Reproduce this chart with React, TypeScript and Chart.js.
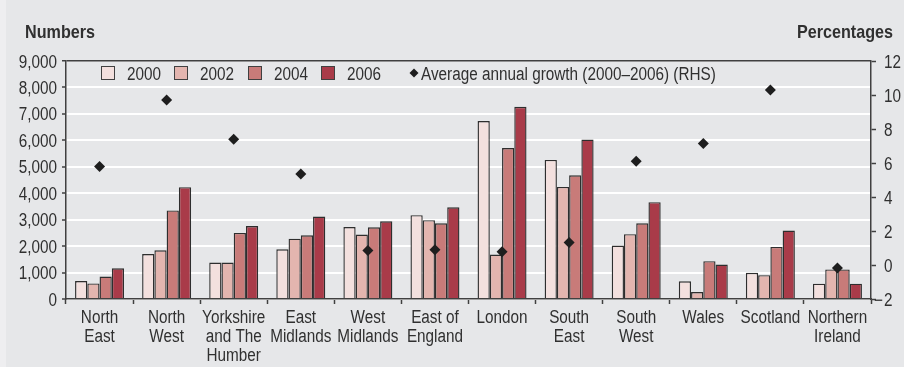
import React, { useEffect, useRef } from "react";
import { Chart, registerables } from "chart.js";

Chart.register(...registerables);

const categories: string[][] = [
  ["North", "East"],
  ["North", "West"],
  ["Yorkshire", "and The", "Humber"],
  ["East", "Midlands"],
  ["West", "Midlands"],
  ["East of", "England"],
  ["London"],
  ["South", "East"],
  ["South", "West"],
  ["Wales"],
  ["Scotland"],
  ["Northern", "Ireland"],
];

const years = ["2000", "2002", "2004", "2006"];
const v2000 = [680, 1700, 1380, 1880, 2720, 3170, 6730, 5260, 2020, 670, 990, 580];
const v2002 = [590, 1840, 1380, 2280, 2440, 2980, 1680, 4240, 2450, 260, 900, 1120];
const v2004 = [850, 3350, 2500, 2410, 2710, 2860, 5710, 4680, 2860, 1430, 1970, 1120];
const v2006 = [1160, 4230, 2760, 3120, 2940, 3470, 7270, 6030, 3660, 1300, 2590, 580];
const growth = [5.8, 9.7, 7.4, 5.35, 0.85, 0.9, 0.78, 1.33, 6.1, 7.15, 10.3, -0.18];
const growthLabel = "Average annual growth (2000\u20132006) (RHS)";
const leftTitle = "Numbers";
const rightTitle = "Percentages";

const leftMin = 0;
const leftMax = 9000;
const leftStep = 1000;
const rightMin = -2;
const rightMax = 12;
const rightStep = 2;

const FONT = "'Liberation Sans', Arial, sans-serif";
const SX = 0.85; // horizontal condensation of all text
const TEXT = "#303030";
const LINE = "#404040";
const colors = ["#f3e0de", "#e3b5af", "#c87b79", "#a93b49"];
const BG = "#e6e7e9";

function txt(
  ctx: CanvasRenderingContext2D,
  s: string,
  x: number,
  y: number,
  align: CanvasTextAlign,
  font: string
) {
  ctx.save();
  ctx.font = font;
  ctx.textAlign = align;
  ctx.textBaseline = "alphabetic";
  ctx.translate(x, y);
  ctx.scale(SX, 1);
  ctx.fillText(s, 0, 0);
  ctx.restore();
}

const overlay = {
  id: "overlay",
  afterDraw(chart: any) {
    const ctx = chart.ctx as CanvasRenderingContext2D;
    const reg = `18px ${FONT}`;
    const bold = `bold 19px ${FONT}`;
    ctx.save();
    ctx.fillStyle = TEXT;

    // axis titles
    txt(ctx, leftTitle, 25, 38, "left", bold);
    txt(ctx, rightTitle, 893, 38, "right", bold);

    // left ticks
    const ys = chart.scales.y;
    ys.ticks.forEach((t: any) => {
      const py = ys.getPixelForValue(t.value);
      txt(ctx, Number(t.value).toLocaleString("en-US"), 57, py + 6.5, "right", reg);
    });

    // right ticks
    const yr = chart.scales.y1;
    yr.ticks.forEach((t: any) => {
      const py = yr.getPixelForValue(t.value);
      const v = Number(t.value);
      txt(ctx, String(Math.abs(v)), 884, py + 6.5, "left", reg);
      if (v < 0) txt(ctx, "\u2212", 883, py + 6.5, "right", reg);
    });

    // category labels
    const xs = chart.scales.x;
    const labels = chart.data.labels as string[][];
    labels.forEach((lines, i) => {
      const px = xs.getPixelForTick(i);
      lines.forEach((line, j) => {
        txt(ctx, line, px, 323 + j * 19, "center", reg);
      });
    });

    // legend
    const boxX = [101, 174, 248, 321];
    const by = 66;
    const bs = 14;
    years.forEach((y, i) => {
      ctx.fillStyle = colors[i];
      ctx.fillRect(boxX[i], by, bs, bs);
      ctx.strokeStyle = LINE;
      ctx.lineWidth = 1;
      ctx.strokeRect(boxX[i] + 0.5, by + 0.5, bs - 1, bs - 1);
      ctx.fillStyle = TEXT;
      txt(ctx, y, boxX[i] + 26, by + 13.5, "left", reg);
    });
    const dx = 414;
    const dy = by + 7;
    ctx.fillStyle = "#1e1e1e";
    ctx.beginPath();
    ctx.moveTo(dx - 4.5, dy);
    ctx.lineTo(dx, dy - 4.5);
    ctx.lineTo(dx + 4.5, dy);
    ctx.lineTo(dx, dy + 4.5);
    ctx.closePath();
    ctx.fill();
    ctx.fillStyle = TEXT;
    txt(ctx, growthLabel, 421, by + 13.5, "left", reg);
    ctx.restore();
  },
};

export default function App() {
  const ref = useRef<HTMLCanvasElement | null>(null);

  useEffect(() => {
    if (!ref.current) return;
    const hidden = "rgba(0,0,0,0)";
    const tickFont = { family: FONT, size: 18, lineHeight: 1.05 };
    const barSets = [v2000, v2002, v2004, v2006].map((data, i) => ({
      type: "bar" as const,
      label: years[i],
      data,
      backgroundColor: colors[i],
      borderColor: "#2e2e2e",
      borderWidth: 1.4,
      categoryPercentage: 0.73,
      barPercentage: 1.0,
      yAxisID: "y",
      order: 1,
    }));
    const chart = new Chart(ref.current, {
      data: {
        labels: categories as any,
        datasets: [
          {
            type: "line" as const,
            label: growthLabel,
            data: growth,
            yAxisID: "y1",
            showLine: false,
            pointStyle: "rectRot",
            pointRadius: 5.5,
            pointBackgroundColor: "#1e1e1e",
            pointBorderColor: "#1e1e1e",
            pointBorderWidth: 0,
            order: 0,
          } as any,
          ...barSets,
        ],
      },
      options: {
        animation: false,
        responsive: false,
        devicePixelRatio: 1,
        events: [],
        layout: { padding: { top: 61, left: 0, right: 0, bottom: 0 } },
        plugins: {
          legend: { display: false },
          tooltip: { enabled: false },
          title: { display: false },
        },
        scales: {
          x: {
            type: "category",
            offset: true,
            grid: {
              display: true,
              drawOnChartArea: false,
              offset: true,
              tickLength: 5,
              tickColor: LINE,
              tickWidth: 1.5,
            },
            border: { display: true, color: LINE, width: 1.5 },
            ticks: {
              autoSkip: false,
              maxRotation: 0,
              minRotation: 0,
              padding: 2,
              color: hidden,
              font: tickFont,
            },
            afterFit: (s: any) => {
              s.height = 68;
            },
          },
          y: {
            position: "left",
            min: leftMin,
            max: leftMax,
            ticks: {
              stepSize: leftStep,
              padding: 4,
              color: hidden,
              font: tickFont,
            },
            grid: {
              color: (c: any) => (c.tick && c.tick.value === leftMax ? LINE : "#ffffff"),
              lineWidth: (c: any) => (c.tick && c.tick.value === leftMax ? 1.5 : 2),
              tickLength: 4,
              tickColor: LINE,
              tickWidth: 1.5,
            },
            border: { color: LINE, width: 1.5 },
            afterFit: (s: any) => {
              s.width = 66;
            },
          },
          y1: {
            position: "right",
            min: rightMin,
            max: rightMax,
            ticks: {
              stepSize: rightStep,
              padding: 4,
              color: hidden,
              font: tickFont,
            },
            grid: {
              drawOnChartArea: false,
              tickLength: 5,
              tickColor: LINE,
              tickWidth: 1.5,
            },
            border: { color: LINE, width: 1.5 },
            afterFit: (s: any) => {
              s.width = 33;
            },
          },
        },
      } as any,
      plugins: [overlay],
    });
    return () => chart.destroy();
  }, []);

  return (
    <div
      style={{
        position: "absolute",
        left: 0,
        top: 0,
        width: 904,
        height: 367,
        background: `linear-gradient(to right, #eeeef0 0px, #eeeef0 6px, ${BG} 6px, ${BG} 100%)`,
        overflow: "hidden",
      }}
    >
      <canvas ref={ref} width={904} height={367} style={{ display: "block" }} />
    </div>
  );
}
